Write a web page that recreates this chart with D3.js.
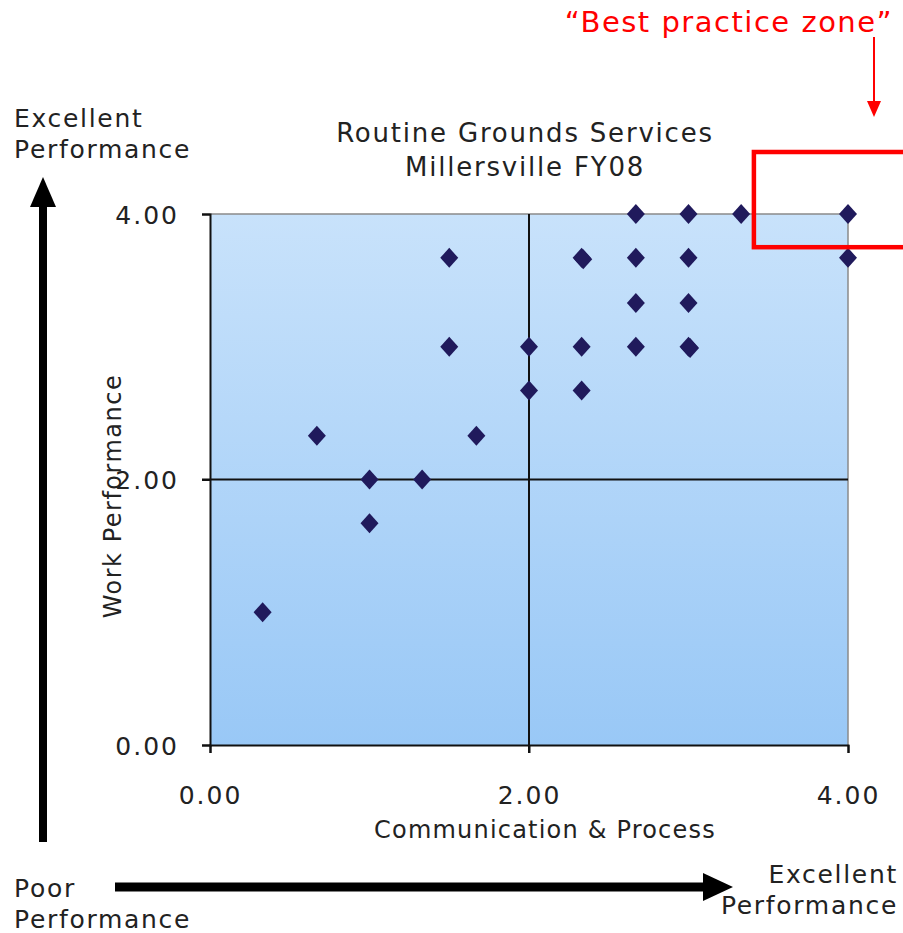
<!DOCTYPE html>
<html>
<head>
<meta charset="utf-8">
<script src="https://cdn.jsdelivr.net/npm/d3@7"></script>
<style>
  html, body { margin: 0; padding: 0; background: #fff; }
  svg { display: block; }
  text { font-family: "DejaVu Sans", Verdana, sans-serif; }
</style>
</head>
<body>
<svg id="chart" width="903" height="933"></svg>
<script>
// Survey scores, one entry per respondent
const commScores = [0.33, 0.67, 1.00, 1.00, 1.33, 1.50, 1.50, 1.67, 2.00, 2.00,
                    2.33, 2.34, 2.33, 2.33, 2.67, 2.67, 2.67, 2.67, 3.00, 3.00,
                    3.00, 3.00, 3.01, 3.33, 4.00, 4.00];
const workScores = [1.00, 2.33, 2.00, 1.67, 2.00, 3.67, 3.00, 2.33, 3.00, 2.67,
                    3.67, 3.66, 3.00, 2.67, 4.00, 3.67, 3.33, 3.00, 4.00, 3.67,
                    3.33, 3.00, 2.99, 4.00, 4.00, 3.67];
const xTicks = [0, 2, 4];
const yTicks = [0, 2, 4];
const midpoint = 2;
const chartTitle = ["Routine Grounds Services", "Millersville FY08"];
const xTitle = "Communication & Process";
const yTitle = "Work Performance";
const zoneLabel = "\u201CBest practice zone\u201D";
// corner of the highlighted zone, in score units
const zoneCorner = { x: 3.41, y: 3.75 };

const svg = d3.select("#chart");
const plot = { left: 210, right: 848, top: 214, bottom: 745 };

const x = d3.scaleLinear().domain([0, 4]).range([plot.left, plot.right]);
const y = d3.scaleLinear().domain([0, 4]).range([plot.bottom, plot.top]);

// background gradient of the plot area
const defs = svg.append("defs");
const grad = defs.append("linearGradient")
  .attr("id", "plotFill").attr("x1", 0).attr("y1", 0).attr("x2", 0).attr("y2", 1);
grad.append("stop").attr("offset", "0%").attr("stop-color", "#c8e2fb");
grad.append("stop").attr("offset", "100%").attr("stop-color", "#99c8f6");

svg.append("rect")
  .attr("x", x(0)).attr("y", y(4))
  .attr("width", x(4) - x(0)).attr("height", y(0) - y(4))
  .attr("fill", "url(#plotFill)");

// gray frame on top and right
svg.append("path")
  .attr("d", `M${x(0)},${y(4)}H${x(4)}V${y(0)}`)
  .attr("fill", "none").attr("stroke", "#8a8a8a").attr("stroke-width", 1.5);

// quadrant dividers
svg.append("line")
  .attr("x1", x(0) - 8).attr("x2", x(4))
  .attr("y1", y(midpoint)).attr("y2", y(midpoint))
  .attr("stroke", "#111").attr("stroke-width", 2);
svg.append("line")
  .attr("x1", x(midpoint)).attr("x2", x(midpoint))
  .attr("y1", y(4)).attr("y2", y(0) + 8)
  .attr("stroke", "#111").attr("stroke-width", 2);

// axes
const fmt = d3.format(".2f");
const xAxis = svg.append("g")
  .attr("transform", `translate(0,${y(0)})`)
  .call(d3.axisBottom(x).tickValues(xTicks).tickFormat(fmt).tickSize(8).tickPadding(33));
const yAxis = svg.append("g")
  .attr("transform", `translate(${x(0)},0)`)
  .call(d3.axisLeft(y).tickValues(yTicks).tickFormat(fmt).tickSize(8).tickPadding(23));
[xAxis, yAxis].forEach(g => {
  g.select(".domain").attr("stroke", "#111").attr("stroke-width", 2);
  g.selectAll(".tick line").attr("stroke", "#111").attr("stroke-width", 2);
  g.selectAll(".tick text")
    .attr("fill", "#222").attr("font-size", 25)
    .attr("font-family", "\"DejaVu Sans\", Verdana, sans-serif")
    .attr("letter-spacing", 2);
});
yAxis.selectAll(".tick text").attr("dy", "0.36em");

// data points
const points = commScores.map((c, i) => ({ c, w: workScores[i] }));
const diamond = "M0,-10L9,0L0,10L-9,0Z";
svg.append("g").selectAll("path")
  .data(points)
  .join("path")
  .attr("d", diamond)
  .attr("transform", d => `translate(${x(d.c)},${y(d.w)})`)
  .attr("fill", "#201a5c");

// titles
svg.append("text")
  .attr("x", 525).attr("y", 142).attr("text-anchor", "middle")
  .attr("font-size", 26).attr("letter-spacing", 1.8).attr("fill", "#222")
  .selectAll("tspan").data(chartTitle).join("tspan")
  .attr("x", 525).attr("dy", (d, i) => i ? 34 : 0).text(d => d);

svg.append("text")
  .attr("x", 545).attr("y", 838).attr("text-anchor", "middle")
  .attr("font-size", 24).attr("letter-spacing", 1.2).attr("fill", "#222")
  .text(xTitle);

svg.append("text")
  .attr("transform", `translate(121,496) rotate(-90)`)
  .attr("text-anchor", "middle")
  .attr("font-size", 24).attr("letter-spacing", 1.5).attr("fill", "#222")
  .text(yTitle);

// performance direction cues
function cue(lines, px, py, anchor) {
  svg.append("text")
    .attr("font-size", 25).attr("letter-spacing", 1.7).attr("fill", "#222")
    .attr("text-anchor", anchor)
    .selectAll("tspan").data(lines).join("tspan")
    .attr("x", px).attr("y", (d, i) => py + i * 31).text(d => d);
}
cue(["Excellent", "Performance"], 14, 127, "start");
cue(["Poor", "Performance"], 14, 897, "start");
cue(["Excellent", "Performance"], 898, 883, "end");

// big black arrows
svg.append("line").attr("x1", 43).attr("x2", 43).attr("y1", 842).attr("y2", 200)
  .attr("stroke", "#000").attr("stroke-width", 8);
svg.append("path").attr("d", "M43,177L56,207L30,207Z").attr("fill", "#000");
svg.append("line").attr("x1", 115).attr("x2", 708).attr("y1", 887).attr("y2", 887)
  .attr("stroke", "#000").attr("stroke-width", 9);
svg.append("path").attr("d", "M733,887L703,873L703,901Z").attr("fill", "#000");

// best practice zone callout
svg.append("rect")
  .attr("x", x(zoneCorner.x)).attr("y", 152)
  .attr("width", 903 - x(zoneCorner.x) + 10)
  .attr("height", y(zoneCorner.y) - 152)
  .attr("fill", "none").attr("stroke", "#ff0000").attr("stroke-width", 4.5);

svg.append("text")
  .attr("x", 729).attr("y", 32).attr("text-anchor", "middle")
  .attr("font-size", 29).attr("letter-spacing", 1.5).attr("fill", "#ff0000")
  .text(zoneLabel);
svg.append("line").attr("x1", 874).attr("x2", 874).attr("y1", 37).attr("y2", 104)
  .attr("stroke", "#ff0000").attr("stroke-width", 2);
svg.append("path").attr("d", "M874,117L867,101L881,101Z").attr("fill", "#ff0000");
</script>
</body>
</html>
